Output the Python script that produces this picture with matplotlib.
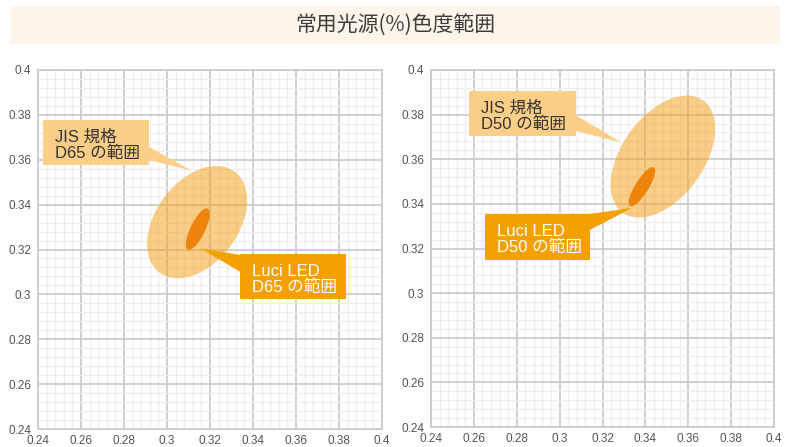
import matplotlib
matplotlib.use("Agg")
import matplotlib.pyplot as plt
from matplotlib.patches import Ellipse, Rectangle, Polygon
from matplotlib.ticker import MultipleLocator

# データ
title = "常用光源(%)色度範囲"
ticks = [0.24, 0.26, 0.28, 0.3, 0.32, 0.34, 0.36, 0.38, 0.4]
tick_labels = ["0.24", "0.26", "0.28", "0.3", "0.32", "0.34", "0.36", "0.38", "0.4"]

# 楕円: 中心x, 中心y, 長径, 短径, 角度
jis_d65 = (0.3140, 0.3322, 0.057, 0.0377, 50.3)
luci_d65 = (0.3143, 0.3291, 0.0205, 0.0068, 63.0)
jis_d50 = (0.3482, 0.3612, 0.0628, 0.0377, 52.1)
luci_d50 = (0.3384, 0.3477, 0.0205, 0.0062, 57.0)

jis_labels = ["JIS 規格\nD65 の範囲", "JIS 規格\nD50 の範囲"]
luci_labels = ["Luci LED\nD65 の範囲", "Luci LED\nD50 の範囲"]

JIS_COL = "#fccf88"
LUCI_COL = "#f4a100"
LABEL_FONT = ["Liberation Sans", "Noto Sans CJK JP"]
CJK = ["Noto Sans CJK JP", "DejaVu Sans"]


def callout(ax, text, box, base, tip, fc, tc):
    # box: 左, 上, 右, 下 ; base: 三角形の付け根2点 ; tip: 先端
    x0, y1, x1, y0 = box
    ax.add_patch(Polygon([base[0], base[1], tip], closed=True, fc=fc, ec="none", zorder=5))
    ax.add_patch(Rectangle((x0, y0), x1 - x0, y1 - y0, fc=fc, ec="none", zorder=6))
    for i, line in enumerate(text.split("\n")):
        ax.annotate(line, xy=(x0, y1), xytext=(8.8, -15.6 - 12.0 * i),
                    textcoords="offset points", va="baseline", ha="left",
                    fontsize=12, color=tc, family=LABEL_FONT, zorder=7)


def panel(ax, jis, luci):
    ax.set_xlim(0.24, 0.4)
    ax.set_ylim(0.24, 0.4)
    ax.set_xticks(ticks)
    ax.set_xticklabels(tick_labels)
    ax.set_yticks(ticks)
    ax.set_yticklabels(tick_labels)
    ax.xaxis.set_minor_locator(MultipleLocator(0.004))
    ax.yaxis.set_minor_locator(MultipleLocator(0.004))
    ax.grid(which="minor", color="#eeeeee", lw=0.9, zorder=0)
    ax.grid(which="major", color="#cccccc", lw=1.3, zorder=1)
    ax.set_axisbelow(True)
    ax.tick_params(which="both", length=0, labelsize=8.5, labelcolor="#555555")
    ax.tick_params(axis="x", pad=4)
    ax.tick_params(axis="y", pad=5)
    for lab in ax.get_xticklabels() + ax.get_yticklabels():
        lab.set_family("Liberation Sans")
    for s in ax.spines.values():
        s.set_color("#cccccc")
        s.set_linewidth(1.3)
    cx, cy, w, h, ang = jis
    ax.add_patch(Ellipse((cx, cy), w, h, angle=ang, fc="#f5a623", alpha=0.55, ec="none", zorder=3))
    cx, cy, w, h, ang = luci
    ax.add_patch(Ellipse((cx, cy), w, h, angle=ang, fc="#ef7d00", alpha=0.9, ec="none", zorder=4))


fig = plt.figure(figsize=(7.9, 4.47), dpi=100)
fig.patches.append(Rectangle((10 / 790, 1 - 44 / 447), 770 / 790, 38 / 447,
                             transform=fig.transFigure, fc="#fdf5ea", ec="none", zorder=0))
fig.text(0.5, 1 - 25 / 447, title, ha="center", va="center", fontsize=15,
         color="#3c3c3c", family=CJK)

ax1 = fig.add_axes([38 / 790, 1 - 429 / 447, 344 / 790, 359 / 447])
ax2 = fig.add_axes([431 / 790, 1 - 427 / 447, 343 / 790, 357 / 447])

panel(ax1, jis_d65, luci_d65)
panel(ax2, jis_d50, luci_d50)

callout(ax1, jis_labels[0], (0.2422, 0.3777, 0.2916, 0.3577),
        [(0.2915, 0.3658), (0.2915, 0.3599)], (0.3115, 0.3551), JIS_COL, "#333333")
callout(ax1, luci_labels[0], (0.3340, 0.3180, 0.3833, 0.2979),
        [(0.3341, 0.3176), (0.3341, 0.3100)], (0.3158, 0.3204), LUCI_COL, "white")
callout(ax2, jis_labels[1], (0.2577, 0.3907, 0.3076, 0.3706),
        [(0.3075, 0.3798), (0.3075, 0.3727)], (0.3290, 0.3674), JIS_COL, "#333333")
callout(ax2, luci_labels[1], (0.2652, 0.3355, 0.3142, 0.3148),
        [(0.3141, 0.3355), (0.3141, 0.3283)], (0.3338, 0.3382), LUCI_COL, "white")

fig.savefig("out.png", dpi=100, facecolor="white")
